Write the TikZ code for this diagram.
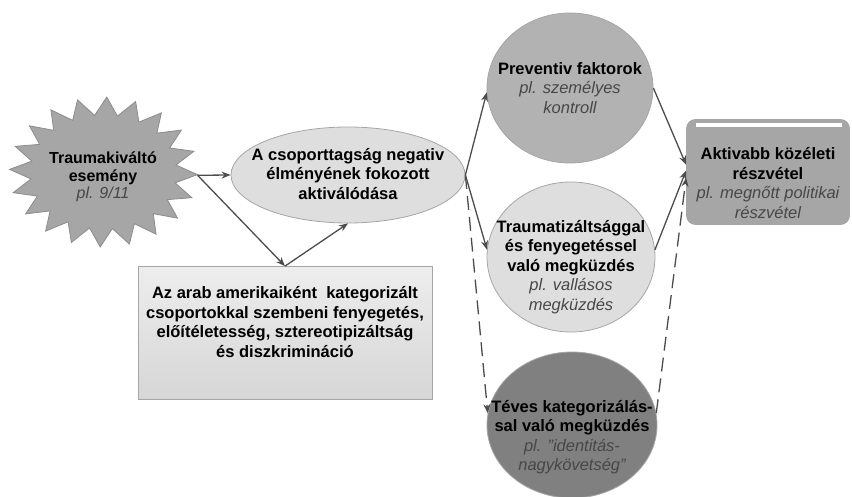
\documentclass[tikz,border=0pt]{standalone}
\usepackage{fontspec}
\setmainfont{Liberation Sans}
\usetikzlibrary{shapes.geometric,arrows.meta}
\tikzset{
  txt/.style={font=\fontsize{16.5}{19.5}\selectfont\bfseries, align=center, text=black, inner sep=0pt},
  arr/.style={draw=black!70, line width=1.3pt, -{Stealth[length=9pt,width=7pt]}},
  darr/.style={arr, dash pattern=on 14pt off 7pt},
  oval/.style={ellipse, draw=black!35, line width=0.8pt, inner sep=0pt}
}
\newcommand{\ex}[1]{{\normalfont\itshape\color{black!72}#1}}
\begin{document}
\begin{tikzpicture}[x=1pt,y=-1pt]
\useasboundingbox (0,0) rectangle (852,497);
% starburst outline
\filldraw[fill=black!35, draw=black!45, line width=0.8pt]
  plot[samples at={0,...,39}, variable=\k]
  ({103.5+ifthenelse(mod(\k,2)==0,94,73)*cos(\k*9+2)},
   {172+ifthenelse(mod(\k,2)==0,75,57)*sin(\k*9+2)}) -- cycle;
\node[ellipse, minimum width=188pt, minimum height=150pt, inner sep=0pt] (star) at (103.5,172) {};
\node[txt, font=\fontsize{16}{17.5}\selectfont\bfseries] (startxt) at (103,177) {Traumakiváltó\\esemény\\\ex{pl. 9/11}};
% ellipse
\node[oval, fill=black!13, minimum width=234pt, minimum height=96pt] (ell) at (348,175) {};
\node[txt] (elltxt) at (348,174) {A csoporttagság negativ\\élményének fokozott\\aktiválódása};
% box
\node[rectangle, draw=black!35, line width=0.8pt, top color=black!7, bottom color=black!16,
      minimum width=294pt, minimum height=133pt] (box) at (285,333) {};
\node[txt] (boxtxt) at (285,322)
  {Az arab amerikaiként\ \ kategorizált\\csoportokkal szembeni fenyegetés,\\előítéletesség, sztereotipizáltság\\és diszkrimináció};
% circles
\node[oval, fill=black!30, minimum width=166pt, minimum height=150pt] (prev) at (570,88) {};
\node[txt] (prevtxt) at (570,88) {Preventiv faktorok\\\ex{pl. személyes}\\\ex{kontroll}};
\node[oval, fill=black!13, minimum width=168pt, minimum height=150pt] (trau) at (571,257) {};
\node[txt] (trautxt) at (571,267)
  {Traumatizáltsággal\\és fenyegetéssel\\való megküzdés\\\ex{pl. vallásos}\\\ex{megküzdés}};
\node[oval, fill=black!50, minimum width=170pt, minimum height=146pt] (teves) at (572,425) {};
\node[txt] (tevestxt) at (572,437)
  {Téves kategorizálás-\\sal való megküzdés\\\ex{pl. "identitás-}\\\ex{nagykövetség"}};
% result box
\node[rectangle, rounded corners=9pt, draw=black!35, line width=0.8pt, fill=black!35,
      minimum width=163pt, minimum height=105pt] (akt) at (768,172) {};
\fill[white] ([xshift=10pt,yshift=-4pt]akt.north west) rectangle ([xshift=-8pt,yshift=-8pt]akt.north east);
\node[txt] (akttxt) at (768,183) {Aktivabb közéleti\\részvétel\\\ex{pl. megnőtt politikai}\\\ex{részvétel}};
% connectors
\draw[arr] (star.-2) -- (ell.west);
\draw[arr] (star.-2) -- (box.north);
\draw[arr] (box.north) -- (ell.south);
\draw[arr] (ell.east) -- (prev.183);
\draw[arr] (ell.east) -- (trau.175);
\draw[darr] (ell.east) -- (teves.172);
\draw[arr] (prev.east) -- (akt.175);
\draw[arr] (trau.5) -- (akt.179);
\draw[darr] (teves.8) -- (akt.184);
\end{tikzpicture}
\end{document}
